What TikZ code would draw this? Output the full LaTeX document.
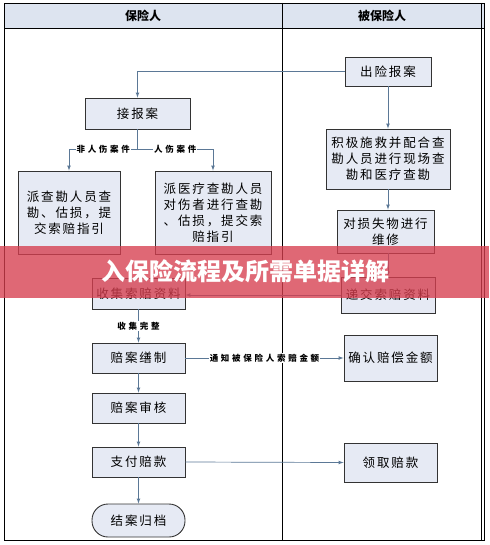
\documentclass[tikz,border=0pt]{standalone}
\usepackage{fontspec}
\newfontfamily\cjk{Noto Sans CJK SC}
\newfontfamily\cjkwide[LetterSpace=15]{Noto Sans CJK SC}
\newfontfamily\cjktag[LetterSpace=32]{Noto Sans CJK SC}
\usetikzlibrary{positioning}

\definecolor{boxfill}{HTML}{E6EAF4}
\definecolor{headfill}{HTML}{DDE4F0}
\definecolor{flowline}{HTML}{5B7896}
\definecolor{bannerred}{HTML}{D63E4E}

\tikzset{
	box/.style={draw=black!80, fill=boxfill, line width=0.9pt, inner sep=0pt, align=center, font=\cjkwide\fontsize{12.5}{16}\selectfont},
	flow/.style={draw=flowline, line width=0.7pt, -latex},
	wire/.style={draw=flowline, line width=0.7pt},
	tag/.style={fill=white, inner sep=1pt, font=\cjktag\bfseries\fontsize{8.5}{10}\selectfont},
}

\begin{document}
\begin{tikzpicture}[x=1pt, y=-1pt]
	\useasboundingbox (0, 0) rectangle (489, 545);
	% Lanes:
	\fill[headfill] (4, 3) rectangle (484, 28);
	\draw[line width=0.8pt] (4, 3) rectangle (484, 540);
	\draw[line width=0.6pt] (481.5, 3) -- (481.5, 540);
	\draw[line width=0.8pt] (4, 28) -- (484, 28);
	\draw[line width=1pt] (282, 3) -- (282, 540);
	\node[font=\cjk\bfseries\fontsize{12}{14}\selectfont](L1) at (143, 16){保险人};
	\node[font=\cjk\bfseries\fontsize{12}{14}\selectfont](L2) at (382, 16){被保险人};
	% Boxes:
	\node[box, minimum width=86pt, minimum height=29pt](baoan) at (388, 71.5){出险报案};
	\node[box, minimum width=105pt, minimum height=31pt](jiebao) at (137.5, 113.5){接报案};
	\node[box, minimum width=124pt, minimum height=60pt](jiji) at (388, 159){积极施救并配合查\\勘人员进行现场查\\勘和医疗查勘};
	\node[box, minimum width=97pt, minimum height=43pt](duisun) at (385.5, 231.5){对损失物进行\\维修};
	\node[box, minimum width=102pt, minimum height=83pt](paicha) at (69, 212.5){派查勘人员查\\勘、估损，提\\交索赔指引};
	\node[box, minimum width=116pt, minimum height=83pt](paiyi) at (213, 212.5){派医疗查勘人员\\对伤者进行查勘\\、估损，提交索\\赔指引};
	\node[box, minimum width=93pt, minimum height=31pt](shouji) at (138.5, 293.5){收集索赔资料};
	\node[box, minimum width=94pt, minimum height=36pt](dijiao) at (388, 295){递交索赔资料};
	\node[box, minimum width=93pt, minimum height=30pt](shanzhi) at (138.5, 358){赔案缮制};
	\node[box, minimum width=93pt, minimum height=46pt](queren) at (390.5, 358){确认赔偿金额};
	\node[box, minimum width=93pt, minimum height=30pt](shenhe) at (138.5, 408){赔案审核};
	\node[box, minimum width=93pt, minimum height=30pt](zhifu) at (138.5, 462){支付赔款};
	\node[box, minimum width=93pt, minimum height=39pt](lingqu) at (390.5, 462.5){领取赔款};
	\node[box, rounded corners=16pt, minimum width=93pt, minimum height=33pt](jiean) at (138.5, 520.5){结案归档};
	% Flow:
	\draw[flow] (baoan.west) -| (jiebao.north);
	\draw[flow] (baoan.south) -- (jiji.north);
	\draw[flow] (jiji.south) -- (jiji.south |- duisun.north);
	\draw[flow] (jiji.south |- duisun.south) -- (jiji.south |- dijiao.north);
	\coordinate (split) at (137.5, 149);
	\draw[wire] (jiebao.south) -- (split);
	\draw[flow] (split) -- node[tag]{非人伤案件} (paicha.north |- split) -- (paicha.north);
	\draw[flow] (split) -- node[tag]{人伤案件} (paiyi.north |- split) -- (paiyi.north);
	\draw[flow] (dijiao.west) -- (shouji.east |- dijiao.west);
	\draw[flow] (shouji.south) -- node[tag]{收集完整} (shanzhi.north);
	\draw[flow] (shanzhi.east) -- node[tag]{通知被保险人索赔金额} (queren.west);
	\draw[flow] (shanzhi.south) -- (shenhe.north);
	\draw[flow] (shenhe.south) -- (zhifu.north);
	\draw[flow] (zhifu.south) -- (jiean.north);
	\draw[flow] (zhifu.east) -- (lingqu.west);
	% Banner:
	\fill[bannerred, opacity=0.78] (0, 246) rectangle (489, 298);
	\node[text=white, font=\cjk\bfseries\fontsize{24}{26}\selectfont](title) at (245, 271){入保险流程及所需单据详解};
\end{tikzpicture}
\end{document}
